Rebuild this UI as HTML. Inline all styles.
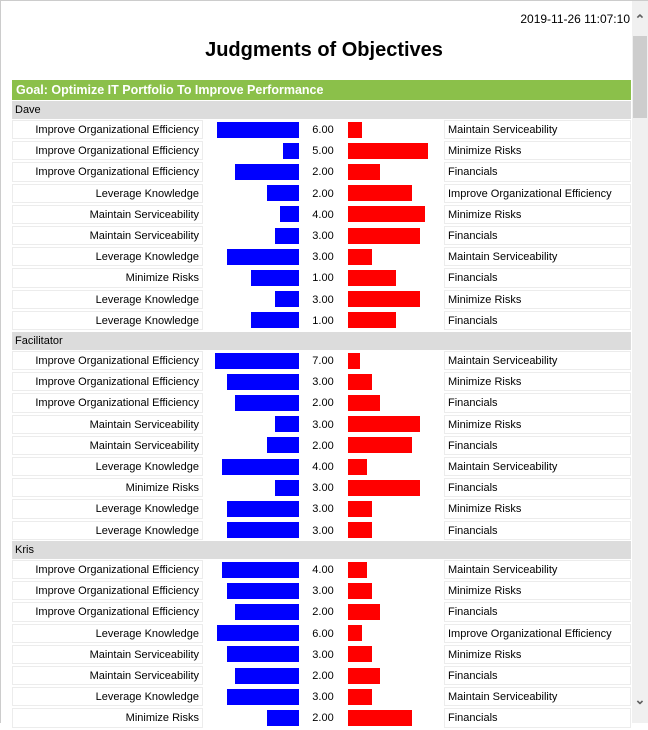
<!DOCTYPE html>
<html><head><meta charset="utf-8"><style>
body{margin:0;width:648px;height:723px;overflow:hidden;background:#fff;font-family:"Liberation Sans",Tahoma,sans-serif;font-size:11px;color:#000;position:relative}
.a{position:absolute;box-sizing:border-box}
</style></head><body>
<div class="a" style="left:0;top:0;width:648px;height:723px;border-top:1px solid #ccc;border-left:1px solid #ccc"></div>
<div class="a" style="left:480px;top:12px;width:150px;text-align:right;font-size:12px">2019-11-26 11:07:10</div>
<div class="a" style="left:0;top:39px;width:648px;text-align:center;font-size:20px;font-weight:bold">Judgments of Objectives</div>
<div class="a" style="left:12px;top:80px;width:619px;height:20px;background:#8bc04a;color:#fff;font-weight:bold;font-size:12.5px;line-height:20px;padding:0 0 0 4px">Goal: Optimize IT Portfolio To Improve Performance</div>
<div class="a" style="left:632px;top:1px;width:16px;height:722px;background:#f0f0f0"></div>
<div class="a" style="left:633px;top:36px;width:14px;height:82px;background:#cdcdcd"></div>
<div class="a" style="left:632px;top:12px;width:16px;text-align:center;color:#606060;font-size:13px;font-weight:bold">&#8963;</div>
<div class="a" style="left:632px;top:692px;width:16px;text-align:center;color:#606060;font-size:13px;font-weight:bold">&#8964;</div>
<div id="body"></div>
<script>
const groups=["Dave","Facilitator","Kris"];
const groupTops=[101,332,541];
const leftLabels=[
["Improve Organizational Efficiency","Improve Organizational Efficiency","Improve Organizational Efficiency","Leverage Knowledge","Maintain Serviceability","Maintain Serviceability","Leverage Knowledge","Minimize Risks","Leverage Knowledge","Leverage Knowledge"],
["Improve Organizational Efficiency","Improve Organizational Efficiency","Improve Organizational Efficiency","Maintain Serviceability","Maintain Serviceability","Leverage Knowledge","Minimize Risks","Leverage Knowledge","Leverage Knowledge"],
["Improve Organizational Efficiency","Improve Organizational Efficiency","Improve Organizational Efficiency","Leverage Knowledge","Maintain Serviceability","Maintain Serviceability","Leverage Knowledge","Minimize Risks"]];
const rightLabels=[
["Maintain Serviceability","Minimize Risks","Financials","Improve Organizational Efficiency","Minimize Risks","Financials","Maintain Serviceability","Financials","Minimize Risks","Financials"],
["Maintain Serviceability","Minimize Risks","Financials","Minimize Risks","Financials","Maintain Serviceability","Financials","Minimize Risks","Financials"],
["Maintain Serviceability","Minimize Risks","Financials","Improve Organizational Efficiency","Minimize Risks","Financials","Maintain Serviceability","Financials"]];
const values=[[6,5,2,2,4,3,3,1,3,1],[7,3,2,3,2,4,3,3,3],[4,3,2,6,3,2,3,2]];
const leftDominant=[[1,0,1,0,0,0,1,1,0,1],[1,1,1,0,0,1,0,1,1],[1,1,1,1,1,1,1,0]];
const body=document.getElementById('body');
const SPAN=96,ROWH=21.2;
function leftShare(v,d){return d?v/(v+1):1/(v+1);}
function mk(style,txt){const e=document.createElement('div');e.className='a';e.style.cssText=style;if(txt!==undefined)e.textContent=txt;body.appendChild(e);return e;}
groups.forEach((g,gi)=>{
  const h=mk(`left:12px;top:${groupTops[gi]}px;width:619px;height:18px;background:#dcdcdc;line-height:19px;padding:0 0 0 3px`,g);
  
  
  values[gi].forEach((v,i)=>{
    const top=groupTops[gi]+18+i*ROWH;
    const l=mk(`left:12px;top:${top+1}px;width:191px;height:${ROWH-2}px;background:#fff;border:1px solid #ececec;text-align:right;line-height:${ROWH-2}px;padding:0 3px 0 0;white-space:nowrap`,leftLabels[gi][i]);
    
    
    const vc=mk(`left:300px;top:${top+1}px;width:46px;height:${ROWH-2}px;background:#fff;text-align:center;line-height:${ROWH}px`,v.toFixed(2));
    
    
    const w=leftShare(v,leftDominant[gi][i]);
    const bw=SPAN*w, rw=SPAN*(1-w);
    const b=mk(`left:${299-bw}px;top:${top+2.5}px;width:${bw}px;height:16px;background:#0000ff`);
    
    
    const r=mk(`left:348px;top:${top+2.5}px;width:${rw}px;height:16px;background:#ff0000`);
    
    
    const rl=mk(`left:444px;top:${top+1}px;width:187px;height:${ROWH-2}px;background:#fff;border:1px solid #ececec;line-height:${ROWH-2}px;padding:0 0 0 3px;white-space:nowrap`,rightLabels[gi][i]);
    
    
  });
});
</script>
</body></html>
